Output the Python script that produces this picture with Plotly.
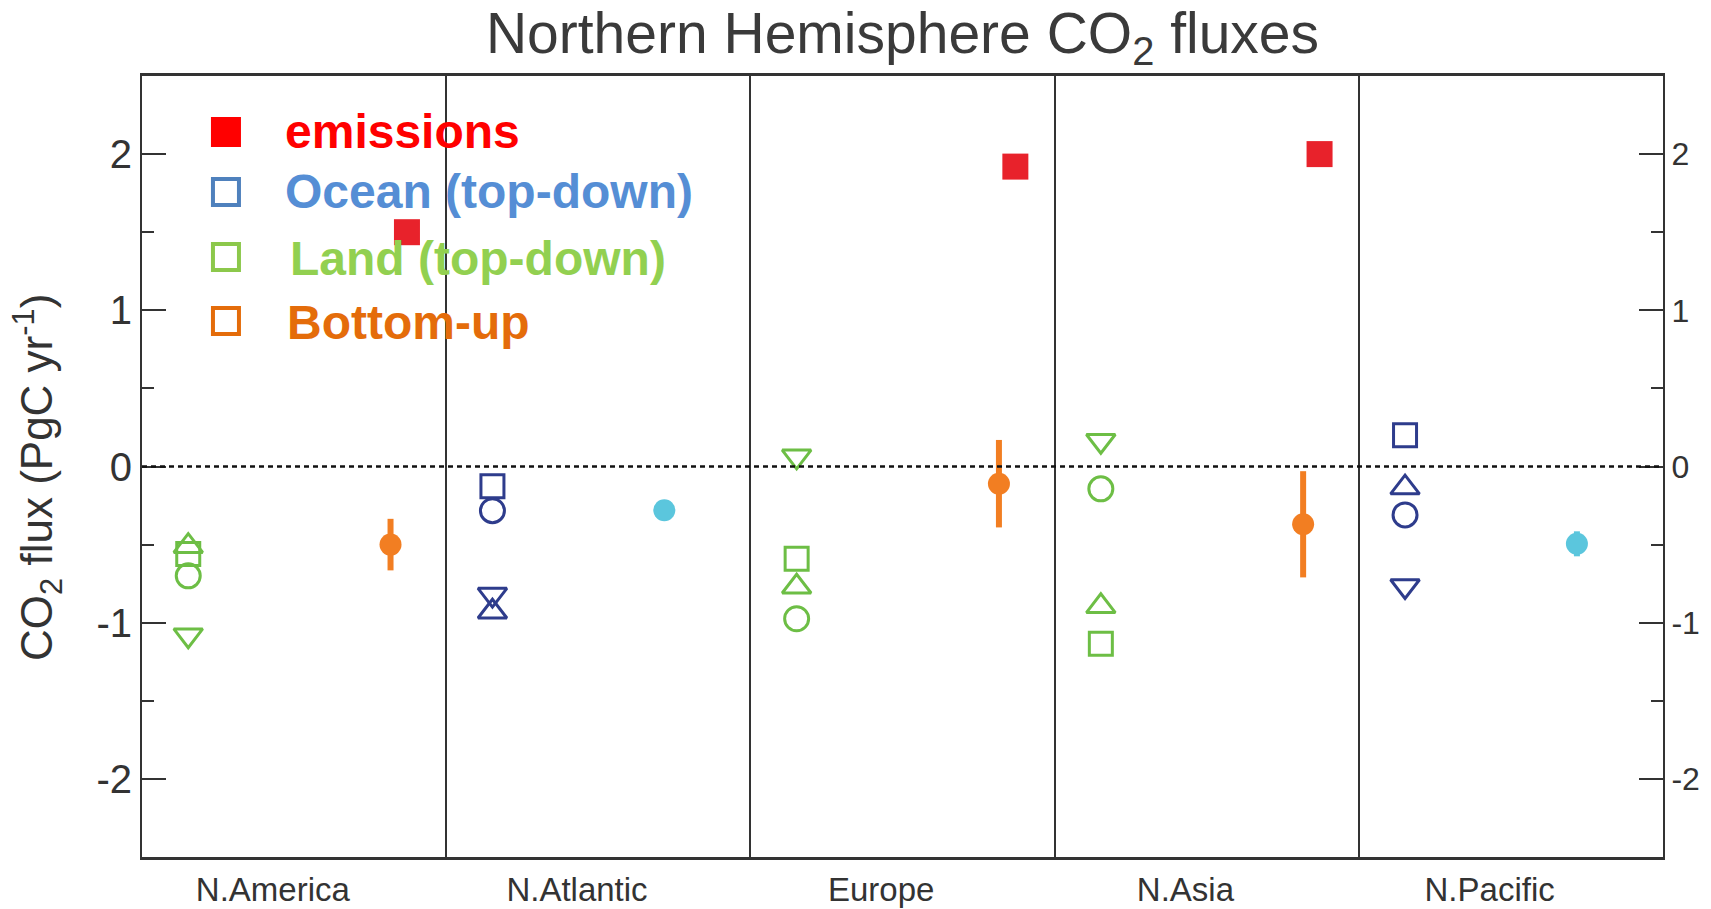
import plotly.graph_objects as go

# ---- data -------------------------------------------------------------
regions = ["N.America", "N.Atlantic", "Europe", "N.Asia", "N.Pacific"]

# fossil emissions (PgC/yr)
emissions = [1.50, None, 1.92, 2.00, None]

# land sink, atmospheric inversions (one list per inversion model / symbol)
land_square = [-0.56, None, -0.59, -1.135, None]
land_circle = [-0.70, None, -0.975, -0.143, None]
land_tri_up = [-0.51, None, -0.77, -0.895, None]
land_tri_down = [-1.08, None, 0.065, 0.165, None]

# ocean sink, atmospheric inversions
ocean_square = [None, -0.127, None, None, 0.20]
ocean_circle = [None, -0.283, None, None, -0.31]
ocean_tri_up = [None, -0.93, None, None, -0.135]
ocean_tri_down = [None, -0.82, None, None, -0.765]

# bottom-up estimates with uncertainty
bottomup_land = [-0.50, None, -0.11, -0.37, None]
bottomup_land_err = [0.165, None, 0.28, 0.34, None]
bottomup_ocean = [None, -0.28, None, None, -0.495]
bottomup_ocean_err = [None, 0.0, None, None, 0.08]

y_tick_values = [-2, -1, 0, 1, 2]
y_tick_labels = ["-2", "-1", "0", "1", "2"]
y_minor_values = [-1.5, -0.5, 0.5, 1.5]

# ---- style ------------------------------------------------------------
FONT = "Liberation Sans, Arial, Helvetica, sans-serif"
INK = "#333333"
RED = "#E8222B"
GREEN = "#6DBE45"
NAVY = "#2E3C8C"
ORANGE = "#F27E22"
CYAN = "#5BC6DD"

# horizontal slot of each estimate inside a region panel
SLOT_TOPDOWN = 0.152
SLOT_BU_OCEAN = 0.717
SLOT_BU_LAND = 0.817
SLOT_EMIS = 0.871
LABEL_POS = 0.43


def xs(values, slot):
    return [i + slot if v is not None else None for i, v in enumerate(values)]


fig = go.Figure()


def open_series(values, symbol, color, size):
    fig.add_trace(go.Scatter(
        x=xs(values, SLOT_TOPDOWN), y=values, mode="markers",
        marker=dict(symbol=symbol, size=size, color=color,
                    line=dict(width=3, color=color)),
        showlegend=False, hoverinfo="y"))


for vals, sym, sz in [(land_square, "square-open", 23),
                      (land_circle, "circle-open", 24),
                      (land_tri_up, "triangle-up-open", 25),
                      (land_tri_down, "triangle-down-open", 25)]:
    open_series(vals, sym, GREEN, sz)

for vals, sym, sz in [(ocean_square, "square-open", 23),
                      (ocean_circle, "circle-open", 24),
                      (ocean_tri_up, "triangle-up-open", 25),
                      (ocean_tri_down, "triangle-down-open", 25)]:
    open_series(vals, sym, NAVY, sz)

fig.add_trace(go.Scatter(
    x=xs(bottomup_ocean, SLOT_BU_OCEAN), y=bottomup_ocean, mode="markers",
    marker=dict(symbol="circle", size=22, color=CYAN),
    error_y=dict(type="data", array=bottomup_ocean_err, color=CYAN,
                 thickness=6, width=0),
    showlegend=False))

fig.add_trace(go.Scatter(
    x=xs(bottomup_land, SLOT_BU_LAND), y=bottomup_land, mode="markers",
    marker=dict(symbol="circle", size=22, color=ORANGE),
    error_y=dict(type="data", array=bottomup_land_err, color=ORANGE,
                 thickness=6, width=0),
    showlegend=False))

fig.add_trace(go.Scatter(
    x=xs(emissions, SLOT_EMIS), y=emissions, mode="markers",
    marker=dict(symbol="square", size=26, color=RED),
    showlegend=False))

# empty trace so the right-hand duplicate axis is drawn
fig.add_trace(go.Scatter(x=[None], y=[None], yaxis="y2",
                         showlegend=False, hoverinfo="skip"))

# dotted zero line
fig.add_shape(type="line", xref="paper", x0=0, x1=1, yref="y", y0=0, y1=0,
              line=dict(color="#111111", width=2.5, dash="5px,4px"))

# ---- key --------------------------------------------------------------
key_items = [
    ("emissions", "#FF0000", "#FF0000", True),
    ("Ocean (top-down)", "#558ED5", "#4F81BD", False),
    ("Land (top-down)", "#92D050", "#8CC84B", False),
    ("Bottom-up", "#E46C0A", "#E46C0A", False),
]
key_rows = [0.9283, 0.8515, 0.7682, 0.6863]
key_text_rows = [0.9283, 0.8515, 0.7668, 0.6848]
key_text_x = [0.0927, 0.0927, 0.0960, 0.0940]
for (label, tcol, mcol, filled), ky, ty, tx in zip(key_items, key_rows,
                                                    key_text_rows, key_text_x):
    fig.add_shape(type="rect", xref="paper", yref="paper",
                  xsizemode="pixel", ysizemode="pixel",
                  xanchor=0.0552, yanchor=ky,
                  x0=-13, x1=13, y0=-13, y1=13,
                  line=dict(color=mcol, width=4),
                  fillcolor=mcol if filled else "rgba(0,0,0,0)")
    fig.add_annotation(xref="paper", yref="paper", x=tx, y=ty,
                       xanchor="left", yanchor="middle", showarrow=False,
                       text=f"<b>{label}</b>",
                       font=dict(family=FONT, size=48, color=tcol))

# y-axis title
fig.add_annotation(xref="paper", yref="paper", x=-0.0684, y=0.4866,
                   xanchor="center", yanchor="middle", showarrow=False,
                   textangle=-90,
                   text="CO<sub>2</sub> flux (PgC yr<sup>-1</sup>)",
                   font=dict(family=FONT, size=44, color=INK))

yaxis_common = dict(
    range=[-2.5, 2.5], tickvals=y_tick_values, ticktext=y_tick_labels,
    ticks="inside", ticklen=24, tickwidth=2, tickcolor=INK,
    showline=True, linewidth=2, linecolor=INK,
    showgrid=False, zeroline=False, automargin=False,
    minor=dict(tickvals=y_minor_values, ticks="inside", ticklen=12,
               tickwidth=2, tickcolor=INK, showgrid=False),
)

fig.update_layout(
    width=1711, height=909,
    margin=dict(l=142, r=48, t=76, b=52),
    plot_bgcolor="white", paper_bgcolor="white",
    showlegend=False,
    font=dict(family=FONT, color=INK),
    title=dict(text="Northern Hemisphere CO<sub>2</sub> fluxes",
               xref="paper", x=0.5, xanchor="center",
               yref="container", y=1 - 33 / 909, yanchor="middle",
               automargin=False,
               font=dict(family=FONT, size=57, color="#3A3A3A")),
    xaxis=dict(
        range=[0, len(regions)],
        tickvals=[i + LABEL_POS for i in range(len(regions))],
        ticktext=regions, ticks="", showgrid=False, zeroline=False,
        showline=True, mirror=True, linewidth=3, linecolor=INK,
        automargin=False, ticklabelstandoff=1,
        tickfont=dict(family=FONT, size=33, color=INK),
        minor=dict(tickvals=list(range(1, len(regions))), showgrid=True,
                   gridcolor=INK, gridwidth=2, ticks=""),
    ),
    yaxis=dict(**yaxis_common, tickfont=dict(family=FONT, size=40, color=INK)),
    yaxis2=dict(**yaxis_common, overlaying="y", side="right",
                tickfont=dict(family=FONT, size=32, color=INK)),
)

fig.write_html("out.html")
